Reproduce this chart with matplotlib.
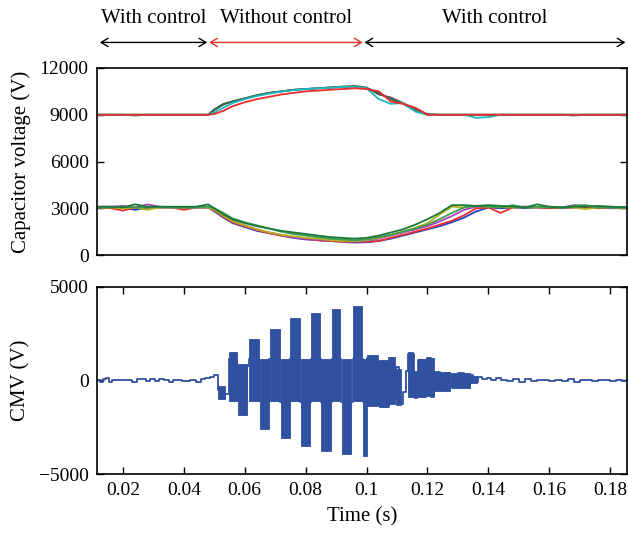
import matplotlib
matplotlib.use("Agg")
import matplotlib.pyplot as plt
from matplotlib.transforms import blended_transform_factory

plt.rcParams['font.family'] = ['Liberation Serif', 'DejaVu Serif']
plt.rcParams['axes.unicode_minus'] = True

# sample instants for the capacitor voltages (s)
t_cap = [0.0115, 0.016, 0.020, 0.024, 0.028, 0.032, 0.036, 0.040, 0.044, 0.048,
         0.050, 0.053, 0.056, 0.060, 0.064, 0.068, 0.072, 0.076, 0.080, 0.084,
         0.088, 0.092, 0.096, 0.100, 0.104, 0.108, 0.112, 0.116, 0.120, 0.124,
         0.128, 0.132, 0.136, 0.140, 0.144, 0.148, 0.152, 0.156, 0.160, 0.164,
         0.168, 0.172, 0.176, 0.180, 0.1855]

# upper arm capacitors (V)
up_gray = [9000, 9000, 9000, 8950, 9000, 9000, 9000, 9000, 9000, 9000,
           9350, 9700, 9850, 10050, 10250, 10400, 10500, 10600, 10650, 10700,
           10750, 10800, 10850, 10750, 10300, 10100, 9750, 9350, 9050, 9000,
           9000, 9000, 9000, 9000, 9000, 9000, 9000, 9000, 9000, 9000,
           8950, 9000, 9000, 9000, 9000]
up_dkgreen = [9000, 9000, 9000, 9000, 9000, 9000, 9000, 9000, 9000, 9000,
              9300, 9650, 9850, 10050, 10250, 10400, 10500, 10600, 10650, 10700,
              10750, 10800, 10800, 10700, 10400, 10000, 9700, 9250, 9000, 9000,
              9000, 9000, 9000, 9000, 9000, 9000, 9000, 9000, 9000, 9000,
              9000, 9000, 9000, 9000, 9000]
up_cyan = [9000, 9000, 9000, 9000, 9000, 9000, 9000, 9000, 9000, 9000,
           9150, 9450, 9750, 10000, 10200, 10350, 10480, 10580, 10650, 10700,
           10720, 10780, 10800, 10700, 10000, 9700, 9750, 9200, 9000, 9000,
           9000, 9000, 8800, 8850, 9000, 9000, 9000, 9000, 9000, 9000,
           9000, 9000, 9000, 9000, 9000]
up_red = [9000, 9000, 9000, 9000, 9000, 9000, 9000, 9000, 9000, 9000,
          9050, 9250, 9550, 9800, 10000, 10150, 10300, 10400, 10500, 10550,
          10600, 10650, 10700, 10650, 10500, 9850, 9700, 9450, 9000, 9000,
          9000, 9000, 9000, 9000, 9000, 9000, 9000, 9000, 9000, 9000,
          9000, 9000, 9000, 9000, 9000]

# lower arm capacitors (V)
lo_blue = [3050, 3050, 3050, 2900, 3050, 3050, 3050, 3050, 3050, 3050,
           2800, 2400, 2050, 1800, 1550, 1400, 1250, 1100, 1000, 950,
           900, 850, 800, 820, 900, 1050, 1250, 1450, 1650, 1850,
           2100, 2400, 2800, 3050, 3000, 3050, 3000, 3050, 3050, 3000,
           3050, 3050, 3050, 3000, 3000]
lo_red = [3050, 3000, 2850, 3050, 3050, 3050, 3050, 2900, 3050, 3050,
          2850, 2450, 2100, 1850, 1600, 1400, 1250, 1150, 1050, 950,
          900, 850, 850, 850, 900, 1100, 1300, 1500, 1700, 1950,
          2200, 2550, 3000, 3050, 2700, 3050, 3100, 3050, 3000, 3050,
          3050, 3100, 3000, 3050, 3050]
lo_magenta = [3100, 3100, 3150, 3050, 3250, 3100, 3050, 3050, 3050, 3050,
              2950, 2550, 2200, 1900, 1650, 1450, 1300, 1150, 1050, 1000,
              950, 900, 880, 900, 1050, 1250, 1450, 1650, 1850, 2150,
              2500, 2900, 3100, 3150, 3100, 3100, 3100, 3050, 3100, 3050,
              3200, 3150, 3100, 3100, 3050]
lo_olive = [3050, 3050, 3000, 3050, 2900, 3050, 3050, 3050, 3050, 3050,
            2900, 2500, 2150, 1900, 1650, 1450, 1300, 1200, 1100, 1050,
            950, 900, 900, 950, 1100, 1300, 1500, 1750, 2050, 2600,
            3100, 3050, 3150, 3100, 3100, 3050, 3050, 3050, 3100, 3050,
            3050, 2950, 3050, 3050, 3000]
lo_green2 = [3050, 3050, 3100, 3050, 3050, 3100, 3050, 3050, 3050, 3100,
             3000, 2700, 2350, 2100, 1900, 1700, 1500, 1350, 1250, 1150,
             1050, 1000, 950, 1000, 1150, 1300, 1500, 1700, 1950, 2300,
             2700, 3050, 3150, 3100, 3050, 3200, 3050, 3100, 3050, 3050,
             3150, 3200, 3050, 3050, 3050]
lo_green = [3100, 3100, 3050, 3250, 3100, 3100, 3100, 3100, 3100, 3250,
            3000, 2600, 2300, 2050, 1850, 1700, 1550, 1450, 1350, 1250,
            1150, 1100, 1050, 1100, 1250, 1450, 1650, 1950, 2300, 2700,
            3200, 3200, 3150, 3200, 3150, 3100, 3050, 3250, 3100, 3050,
            3100, 3100, 3150, 3100, 3050]

# common-mode voltage trace (step samples)
cmv_t = [0.0115, 0.0125, 0.0135, 0.0145, 0.0155, 0.0165, 0.0200, 0.0230, 0.0245,
         0.0260, 0.0275, 0.0290, 0.0305, 0.0320, 0.0335, 0.0350, 0.0365, 0.0380,
         0.0395, 0.0420, 0.0440, 0.0455, 0.0470, 0.0485, 0.0500,
         0.0512, 0.0520, 0.0535, 0.0549, 0.0575, 0.0579, 0.0608, 0.0615, 0.0648,
         0.0681, 0.0717, 0.0750, 0.0783, 0.0816, 0.0849, 0.0885, 0.0917, 0.0954,
         0.0987, 0.1003, 0.1020, 0.1040, 0.1055, 0.1072, 0.1085, 0.1095, 0.1105,
         0.1118, 0.1128, 0.1135, 0.1155, 0.1168, 0.1185, 0.1200, 0.1210, 0.1220,
         0.1240, 0.1260, 0.1275, 0.1300, 0.1320, 0.1340, 0.1350, 0.1365, 0.1380,
         0.1395, 0.1410, 0.1425, 0.1440, 0.1460, 0.1480, 0.1500, 0.1520, 0.1540,
         0.1560, 0.1580, 0.1600, 0.1620, 0.1640, 0.1660, 0.1680, 0.1700, 0.1720,
         0.1740, 0.1760, 0.1780, 0.1800, 0.1820, 0.1840, 0.1855]
cmv_v = [50, -80, 60, 150, -60, 0, 0, -60, 80,
         60, -40, 90, -50, 70, 40, -60, 50, 30,
         -20, 0, -80, 60, 120, 200, 300,
         -500, -950, -700, 1150, 700, -1100, 800, 1150, -1100,
         1150, -1150, 1150, -1150, 1150, -1150, 1150, -1150, 1150,
         -1150, 1200, -1300, 1000, -1400, 1200, -1000, 700, -1250,
         -600, 500, 1400, -900, 1100, -800, 1200, -900, 450,
         -500, 400, -300, 420, -350, 300, -100, 200, 100,
         150, 50, 120, 40, -40, 60, -60, 80, -30,
         30, 0, -30, 0, -50, 60, -60, 40, 0,
         -40, 30, 0, -50, 40, -20, 0]

# densely switching intervals of the CMV: start, end, low, high
blk_t0 = [0.0512, 0.0549, 0.0579, 0.0615, 0.0651, 0.0684, 0.0719, 0.0750, 0.0785,
          0.0816, 0.0851, 0.0885, 0.0919, 0.0954, 0.0989,
          0.1003, 0.1040, 0.1072, 0.1095, 0.1135, 0.1155, 0.1168, 0.1198,
          0.1222, 0.1278, 0.1340]
blk_t1 = [0.0535, 0.0575, 0.0608, 0.0648, 0.0681, 0.0715, 0.0748, 0.0781, 0.0814,
          0.0847, 0.0882, 0.0914, 0.0950, 0.0985, 0.1003,
          0.1038, 0.1070, 0.1093, 0.1112, 0.1153, 0.1166, 0.1195, 0.1220,
          0.1275, 0.1338, 0.1362]
blk_lo = [-1000, -1100, -1850, -1100, -2600, -1100, -3060, -1100, -3490,
          -1100, -3760, -1100, -3920, -1100, -4030,
          -1350, -1420, -1250, -1300, -900, -950, -900, -850,
          -550, -400, -150]
blk_hi = [-300, 1500, 900, 2200, 1150, 2750, 1150, 3330, 1150,
          3600, 1150, 3820, 1150, 3980, 1150,
          1350, 1100, 1250, 600, 1500, 500, 1150, 1200,
          480, 420, 250]

# control-mode intervals shown above the plots
seg_edges = [0.0124, 0.0477, 0.0483, 0.0987, 0.0993, 0.1850]
seg_text = ["With control", "Without control", "With control"]
seg_color = ["black", "#e8302c", "black"]

fig = plt.figure(figsize=(6.28, 5.37), dpi=100)
ax1 = fig.add_axes([0.1545, 0.5251, 0.8439, 0.3483])
ax2 = fig.add_axes([0.1545, 0.1173, 0.8439, 0.3483])

cap_lines = [(lo_blue, "#2440c8"), (lo_red, "#e8302c"), (lo_magenta, "#b040c0"),
             (lo_olive, "#b8b020"), (lo_green2, "#3a9a50"), (lo_green, "#1a7a3a"),
             (up_gray, "#555555"), (up_dkgreen, "#2f6b4f"), (up_cyan, "#20b8c0"),
             (up_red, "#ee2a2a")]
for vals, col in cap_lines:
    ax1.plot(t_cap, vals, color=col, lw=1.3)

ax1.set_ylim(0, 12000)
ax1.set_yticks([0, 3000, 6000, 9000, 12000])
ax1.set_ylabel("Capacitor voltage (V)", fontsize=15, labelpad=6)
ax1.tick_params(axis="x", which="both", bottom=False, top=False, labelbottom=False)

cmv_col = "#3050a0"
ax2.bar(blk_t0, [h - l for h, l in zip(blk_hi, blk_lo)], bottom=blk_lo,
        width=[b - a for a, b in zip(blk_t0, blk_t1)], align="edge",
        color=cmv_col, edgecolor=cmv_col, linewidth=0.6)
ax2.plot(cmv_t, cmv_v, color=cmv_col, lw=1.3, drawstyle="steps-post")
ax2.set_ylim(-5000, 5000)
ax2.set_yticks([-5000, 0, 5000])
ax2.set_xticks([0.02, 0.04, 0.06, 0.08, 0.1, 0.12, 0.14, 0.16, 0.18])
ax2.set_xticklabels(["0.02", "0.04", "0.06", "0.08", "0.1", "0.12", "0.14", "0.16", "0.18"])
ax2.set_ylabel("CMV (V)", fontsize=15, labelpad=6)
ax2.set_xlabel("Time (s)", fontsize=15, labelpad=6)
ax2.tick_params(axis="x", top=True)

for ax in (ax1, ax2):
    ax.set_xlim(0.0115, 0.1855)
    ax.tick_params(direction="in", length=5, width=1, labelsize=14, right=True, pad=6)
    for sp in ax.spines.values():
        sp.set_linewidth(1.2)

trans = blended_transform_factory(ax1.transData, fig.transFigure)
for i, (txt, col) in enumerate(zip(seg_text, seg_color)):
    x0, x1 = seg_edges[2 * i], seg_edges[2 * i + 1]
    ax1.annotate("", xy=(x1, 0.921), xytext=(x0, 0.921), xycoords=trans, textcoords=trans,
                 arrowprops=dict(arrowstyle="<->,head_length=0.5,head_width=0.3",
                                 color=col, lw=1.0, shrinkA=0, shrinkB=0))
    ax1.text((x0 + x1) / 2, 0.966, txt, transform=trans, ha="center", va="center",
             fontsize=15, clip_on=False)

fig.savefig("out.png", dpi=100)
